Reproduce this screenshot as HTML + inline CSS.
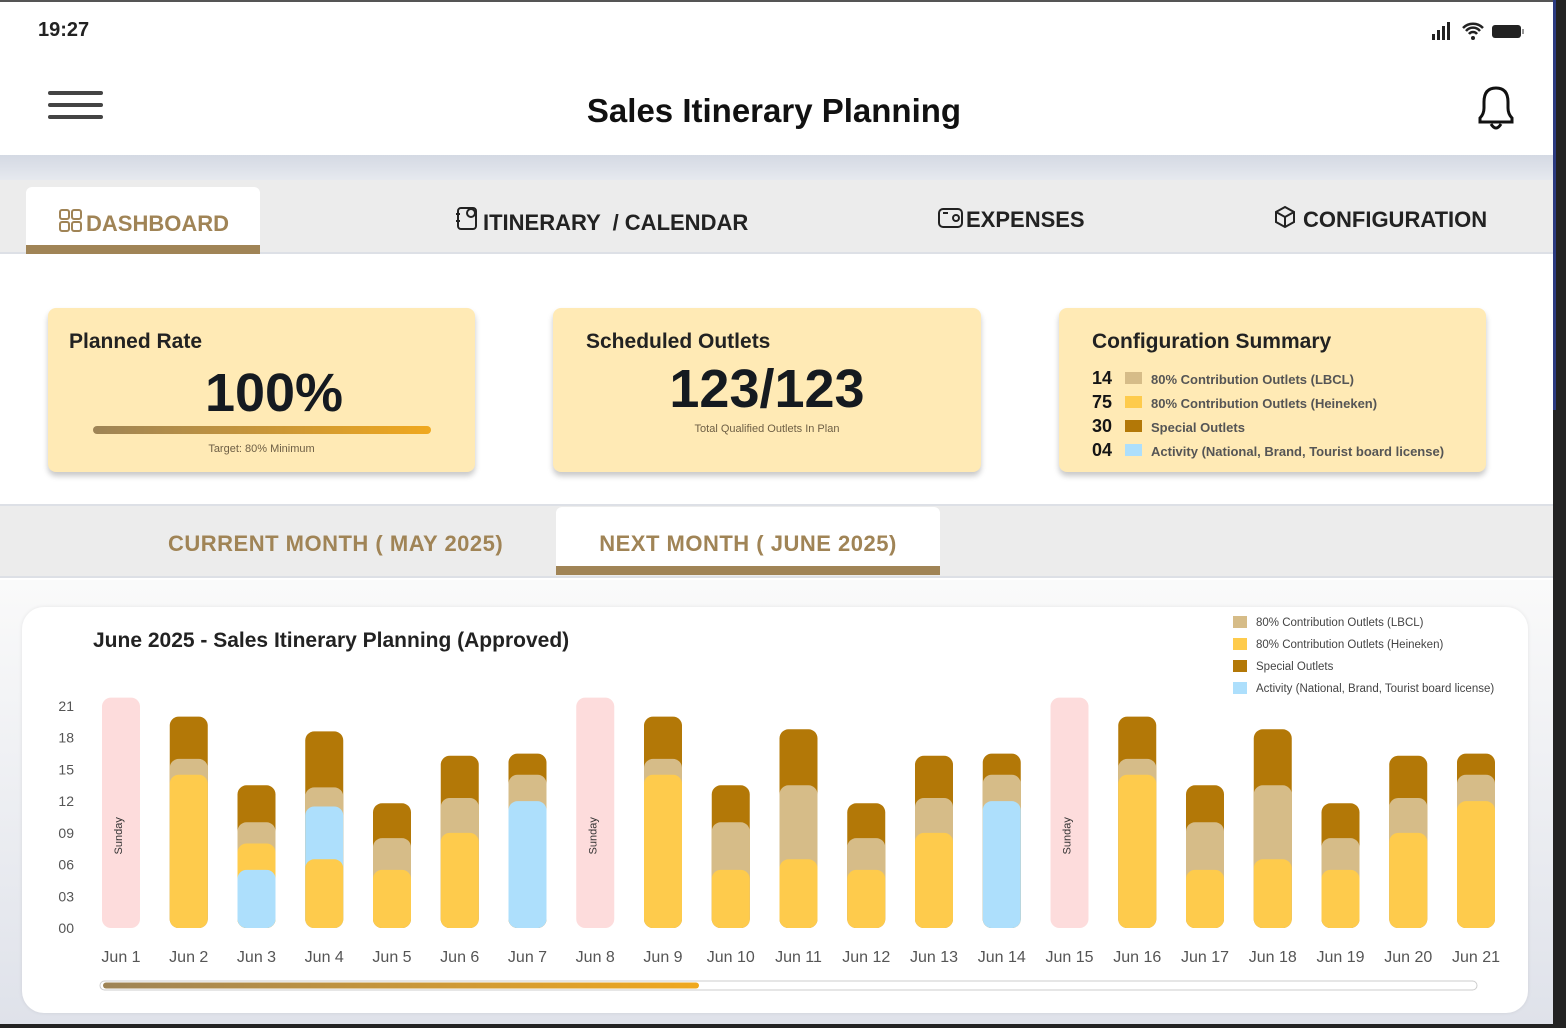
<!DOCTYPE html>
<html><head><meta charset="utf-8"><style>
*{margin:0;padding:0;box-sizing:border-box}
body{width:1566px;height:1028px;position:relative;overflow:hidden;background:#fff;font-family:"Liberation Sans",sans-serif;color:#1a1a1a}
.a{position:absolute}
.card{position:absolute;background:#ffeab5;border-radius:8px;box-shadow:0 4px 6px rgba(0,0,0,.22)}
.tab{position:absolute;font-weight:bold;font-size:22px;color:#222}
</style></head><body>
<div class="a" style="left:0;top:0;width:1566px;height:2px;background:#555"></div>
<div class="a" style="left:1553px;top:0;width:13px;height:1028px;background:#232323"></div>
<div class="a" style="left:1553px;top:0;width:3px;height:410px;background:#2b3a80"></div>
<div class="a" style="left:0;top:1024px;width:1566px;height:4px;background:#232323"></div>

<div class="a" style="left:38px;top:19px;font-size:20px;font-weight:bold;color:#222">19:27</div>
<svg class="a" style="left:1430px;top:20px" width="96" height="22">
<rect x="2" y="14" width="3" height="6" fill="#222"/><rect x="7" y="10" width="3" height="10" fill="#222"/><rect x="12" y="6" width="3" height="14" fill="#222"/><rect x="17" y="2" width="3" height="18" fill="#222"/>
<path d="M33 8 a14 14 0 0 1 20 0 M36 11 a9 9 0 0 1 14 0 M39 14 a5 5 0 0 1 8 0" stroke="#222" stroke-width="2.5" fill="none"/><circle cx="43" cy="18" r="2" fill="#222"/>
<rect x="62" y="5" width="29" height="13" rx="3" fill="#222"/><rect x="92" y="9" width="2" height="5" fill="#999"/></svg>

<svg class="a" style="left:46px;top:88px" width="60" height="36"><rect x="2" y="3" width="55" height="4" rx="2" fill="#444"/><rect x="2" y="15" width="55" height="4" rx="2" fill="#444"/><rect x="2" y="27" width="55" height="4" rx="2" fill="#444"/></svg>
<div class="a" style="left:0;width:1548px;top:92px;text-align:center;font-size:33px;font-weight:bold;color:#111">Sales Itinerary Planning</div>
<svg class="a" style="left:1472px;top:84px" width="48" height="50"><path d="M8 38 L8 34 Q12 30 12 24 L12 18 Q12 4 24 4 Q36 4 36 18 L36 24 Q36 30 40 34 L40 38 Z" fill="none" stroke="#111" stroke-width="3"/><path d="M19 40 Q24 48 29 40" fill="none" stroke="#111" stroke-width="3"/></svg>

<div class="a" style="left:0;top:155px;width:1553px;height:25px;background:linear-gradient(#d4d9e3,#e6e9ef)"></div>
<div class="a" style="left:0;top:180px;width:1553px;height:74px;background:#ececec;border-bottom:2px solid #dde0e6"></div>
<div class="a" style="left:26px;top:187px;width:234px;height:67px;background:#fff;border-radius:6px 6px 0 0;border-bottom:9px solid #a08456"></div>
<div class="tab" style="left:58px;top:210px;color:#a08456">
<span style="display:inline-block;width:28px;height:24px;vertical-align:-3px"></span>DASHBOARD</div>
<svg class="a" style="left:58px;top:208px" width="26" height="26"><g fill="none" stroke="#a08456" stroke-width="2"><rect x="2" y="2" width="9" height="9" rx="2"/><rect x="14" y="2" width="9" height="9" rx="2"/><rect x="2" y="14" width="9" height="9" rx="2"/><rect x="14" y="14" width="9" height="9" rx="2"/></g></svg>
<svg class="a" style="left:454px;top:205px" width="26" height="26"><g fill="none" stroke="#222" stroke-width="2"><rect x="4" y="3" width="18" height="21" rx="3"/><circle cx="17" cy="8" r="4"/><line x1="2" y1="9" x2="6" y2="9"/><line x1="2" y1="16" x2="6" y2="16"/></g></svg>
<div class="tab" style="left:483px;top:210px">ITINERARY &nbsp;/ CALENDAR</div>
<svg class="a" style="left:937px;top:206px" width="28" height="24"><g fill="none" stroke="#222" stroke-width="2"><rect x="2" y="3" width="23" height="18" rx="4"/><circle cx="19" cy="12" r="3"/><line x1="6" y1="7" x2="11" y2="7"/></g></svg>
<div class="tab" style="left:966px;top:207px">EXPENSES</div>
<svg class="a" style="left:1274px;top:205px" width="28" height="26"><g fill="none" stroke="#222" stroke-width="2"><path d="M11 2 L20 7 L20 17 L11 22 L2 17 L2 7 Z"/><path d="M2 7 L11 12 L20 7 M11 12 L11 22"/></g></svg>
<div class="tab" style="left:1303px;top:207px">CONFIGURATION</div>

<div class="card" style="left:48px;top:308px;width:427px;height:164px">
<div class="a" style="left:21px;top:22px;font-size:21px;font-weight:bold;color:#222">Planned Rate</div>
<div class="a" style="left:0;width:452px;text-align:center;top:54px;font-size:54px;font-weight:bold;color:#151a20">100%</div>
<div class="a" style="left:45px;top:118px;width:338px;height:8px;border-radius:4px;background:linear-gradient(90deg,#9e8456,#f0a81e)"></div>
<div class="a" style="left:0;width:427px;text-align:center;top:135px;font-size:11px;color:#6e5f45">Target: 80% Minimum</div>
</div>
<div class="card" style="left:553px;top:308px;width:428px;height:164px">
<div class="a" style="left:33px;top:22px;font-size:21px;font-weight:bold;color:#222">Scheduled Outlets</div>
<div class="a" style="left:0;width:428px;text-align:center;top:50px;font-size:54px;font-weight:bold;color:#151a20">123/123</div>
<div class="a" style="left:0;width:428px;text-align:center;top:115px;font-size:11px;color:#6e5f45">Total Qualified Outlets In Plan</div>
</div>
<div class="card" style="left:1059px;top:308px;width:427px;height:164px">
<div class="a" style="left:33px;top:22px;font-size:21px;font-weight:bold;color:#222">Configuration Summary</div>
<div class="a" style="left:33px;top:59px;font-size:13px;font-weight:bold;color:#555;line-height:22px">
<div><b style="display:inline-block;width:33px;font-size:18px;color:#151515">14</b><i style="display:inline-block;width:17px;height:12px;background:#d6bc88;margin-right:9px"></i>80% Contribution Outlets (LBCL)</div>
<div><b style="display:inline-block;width:33px;font-size:18px;color:#151515">75</b><i style="display:inline-block;width:17px;height:12px;background:#fecb4c;margin-right:9px"></i>80% Contribution Outlets (Heineken)</div>
<div><b style="display:inline-block;width:33px;font-size:18px;color:#151515">30</b><i style="display:inline-block;width:17px;height:12px;background:#b37807;margin-right:9px"></i>Special Outlets</div>
<div><b style="display:inline-block;width:33px;font-size:18px;color:#151515">04</b><i style="display:inline-block;width:17px;height:12px;background:#addffc;margin-right:9px"></i>Activity (National, Brand, Tourist board license)</div>
</div></div>

<div class="a" style="left:0;top:504px;width:1553px;height:74px;background:#ececec;border-top:2px solid #dde0e6;border-bottom:2px solid #dde0e6"></div>
<div class="a" style="left:168px;top:531px;font-size:22px;font-weight:bold;color:#a08456;letter-spacing:0.5px">CURRENT MONTH ( MAY 2025)</div>
<div class="a" style="left:556px;top:507px;width:384px;height:68px;background:#fff;border-radius:6px 6px 0 0;border-bottom:9px solid #a08456;text-align:center;padding-top:24px;font-size:22px;font-weight:bold;color:#a08456;letter-spacing:0.5px">NEXT MONTH ( JUNE 2025)</div>

<div class="a" style="left:0;top:580px;width:1553px;height:444px;background:linear-gradient(#fafafa,#dfe2ea)"></div>
<div class="a" style="left:22px;top:607px;width:1506px;height:406px;background:#fff;border-radius:22px;box-shadow:0 0 4px rgba(0,0,0,.08)"></div>
<svg id="chart" class="a" style="left:0;top:0" width="1553" height="1024"></svg>

<script>
const categories=["Jun 1","Jun 2","Jun 3","Jun 4","Jun 5","Jun 6","Jun 7","Jun 8","Jun 9","Jun 10","Jun 11","Jun 12","Jun 13","Jun 14","Jun 15","Jun 16","Jun 17","Jun 18","Jun 19","Jun 20","Jun 21"];
const sunday=[21.8,0,0,0,0,0,0,21.8,0,0,0,0,0,0,21.8,0,0,0,0,0,0];
const heineken=[0,14.5,2.5,6.5,5.5,9,0,0,14.5,5.5,6.5,5.5,9,0,0,14.5,5.5,6.5,5.5,9,12];
const activity=[0,0,5.5,5,0,0,12,0,0,0,0,0,0,12,0,0,0,0,0,0,0];
const lbcl=[0,1.5,2,1.8,3,3.3,2.5,0,1.5,4.5,7,3,3.3,2.5,0,1.5,4.5,7,3,3.3,2.5];
const special=[0,4,3.5,5.3,3.3,4,2,0,4,3.5,5.3,3.3,4,2,0,4,3.5,5.3,3.3,4,2];
const activityFirst=[0,0,1,0,0,0,0,0,0,0,0,0,0,0,0,0,0,0,0,0,0];
const yTicks=[0,3,6,9,12,15,18,21];
const yTickLabels=["00","03","06","09","12","15","18","21"];
const legendLabels=["80% Contribution Outlets (LBCL)","80% Contribution Outlets (Heineken)","Special Outlets","Activity (National, Brand, Tourist board license)"];
const legendColors=["#d6bc88","#fecb4c","#b37807","#addffc"];

const svg=document.getElementById('chart');
const NS="http://www.w3.org/2000/svg";
const y0=928,pxPer=10.57,x0=121,step=67.75,bw=38;
function yScale(v){return y0-v*pxPer;}
function xScale(i){return x0+i*step;}
function mk(tag,attrs){const e=document.createElementNS(NS,tag);for(const k in attrs)e.setAttribute(k,attrs[k]);svg.appendChild(e);return e;}

const t=mk('text',{x:93,y:647,'font-size':21,'font-weight':'bold',fill:'#222'});


t.textContent="June 2025 - Sales Itinerary Planning (Approved)";

legendLabels.forEach((l,i)=>{
 const r=mk('rect',{x:1233,y:616+i*22,width:14,height:12,fill:legendColors[i]});
 
 
 const tx=mk('text',{x:1256,y:626+i*22,'font-size':11.5,fill:'#444'});
 
 
 tx.textContent=l;
});

yTicks.forEach((v,i)=>{
 const tx=mk('text',{x:74,y:yScale(v)+5,'font-size':14,fill:'#555','text-anchor':'end'});
 
 
 tx.textContent=yTickLabels[i];
});

function seg(x,top,color,name){
 const h=y0-top; if(h<=0)return;
 const r=mk('rect',{x:x-bw/2,y:top,width:bw,height:h,rx:9,ry:9,fill:color});
 
 
}
categories.forEach((c,i)=>{
 const x=xScale(i);
 if(sunday[i]>0){
  seg(x,yScale(sunday[i]),'#fddcdc','bar-sunday');
  const s=mk('text',{x:0,y:0,'font-size':11,fill:'#333','text-anchor':'middle',transform:`translate(${x+1},${yScale(sunday[i]*0.4)}) rotate(-90)`});
  
  
  s.textContent="Sunday";
 } else {
  const order=activityFirst[i]?[[activity[i],'#addffc','bar-activity'],[heineken[i],'#fecb4c','bar-heineken']]:[[heineken[i],'#fecb4c','bar-heineken'],[activity[i],'#addffc','bar-activity']];
  order.push([lbcl[i],'#d6bc88','bar-lbcl'],[special[i],'#b37807','bar-special']);
  const tops=[];let cum=0;
  order.forEach(o=>{cum+=o[0];tops.push(cum);});
  for(let k=order.length-1;k>=0;k--){ if(order[k][0]>0) seg(x,yScale(tops[k]),order[k][1],order[k][2]); }
 }
 const lb=mk('text',{x:x,y:962,'font-size':16,fill:'#555','text-anchor':'middle'});
 
 
 lb.textContent=c;
});

const defs=mk('defs',{});
defs.innerHTML='<linearGradient id="sg"><stop offset="0" stop-color="#9e8456"/><stop offset="1" stop-color="#f0a81e"/></linearGradient>';
const track=mk('rect',{x:100,y:981,width:1377,height:9,rx:4.5,fill:'#fff',stroke:'#ccc','stroke-width':1});


const thumb=mk('rect',{x:103,y:982.5,width:596,height:6,rx:3,fill:'url(#sg)'});


</script>
</body></html>
